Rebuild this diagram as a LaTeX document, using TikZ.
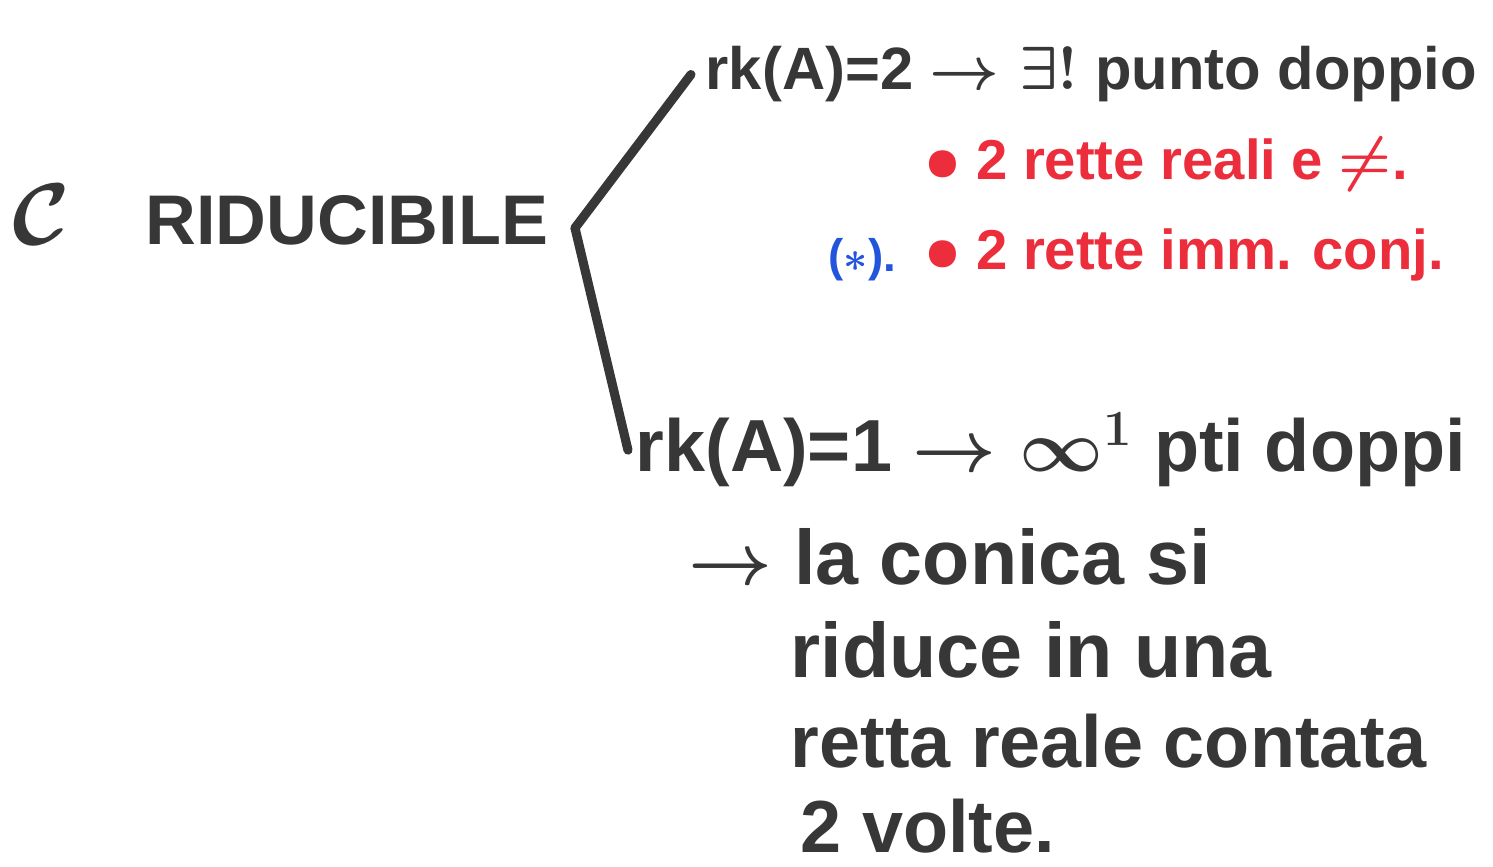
\documentclass[tikz,border=0pt]{standalone}
\usepackage{fontspec}
\setmainfont{Liberation Sans}
\usetikzlibrary{positioning}
\definecolor{inkblack}{RGB}{55,55,55}
\definecolor{inkred}{RGB}{235,45,60}
\definecolor{inkblue}{RGB}{35,85,220}
\newcommand{\inksize}[1]{\fontsize{#1}{#1}\selectfont\bfseries\boldmath}
\begin{document}
\begin{tikzpicture}[
  txt/.style={anchor=base west, inner sep=0pt, text=inkblack, font=\inksize{19}},
  redtxt/.style={txt, text=inkred, font=\inksize{16}},
  bluetxt/.style={txt, text=inkblue, font=\inksize{13}},
  branch/.style={inkblack, line width=2.6pt, line cap=round},
]
  \useasboundingbox (0,0) rectangle (14.93,-8.67);

  \node[txt, font=\inksize{28}] (cc) at (0.12,-2.45) {$\mathcal{C}$};
  \node[txt, font=\inksize{20}] (riduc) at (1.45,-2.45) {RIDUCIBILE};
  \coordinate (fork) at (5.75,-2.28);

  % upper branch
  \node[txt, font=\inksize{17}] (rktwo) at (7.05,-0.9) {rk(A)=2 $\rightarrow\exists!$ punto doppio};
  \node[redtxt]  (reali) at (9.25,-1.8)  {$\bullet$ 2 rette reali e $\neq$.};
  \node[redtxt]  (immag) at (9.25,-2.7)  {$\bullet$ 2 rette imm. conj.};
  \node[bluetxt] (star)  at (8.28,-2.72) {($*$).};

  % lower branch
  \node[txt, font=\inksize{21}] (rkone)  at (6.35,-4.72) {rk(A)=1 $\rightarrow\infty^1$ pti doppi};
  \node[txt, font=\inksize{22}] (conica) at (6.88,-5.85) {$\rightarrow$ la conica si};
  \node[txt, font=\inksize{22}] (riduce) at (7.9,-6.78)  {riduce in una};
  \node[txt, font=\inksize{21}] (retta)  at (7.9,-7.68)  {retta reale contata};
  \node[txt, font=\inksize{21}] (volte)  at (8.0,-8.52)  {2 volte.};

  \draw[branch] (fork) -- ([xshift=-4pt]rktwo.west);
  \draw[branch] (fork) -- ([xshift=-2pt]rkone.west);
\end{tikzpicture}
\end{document}
